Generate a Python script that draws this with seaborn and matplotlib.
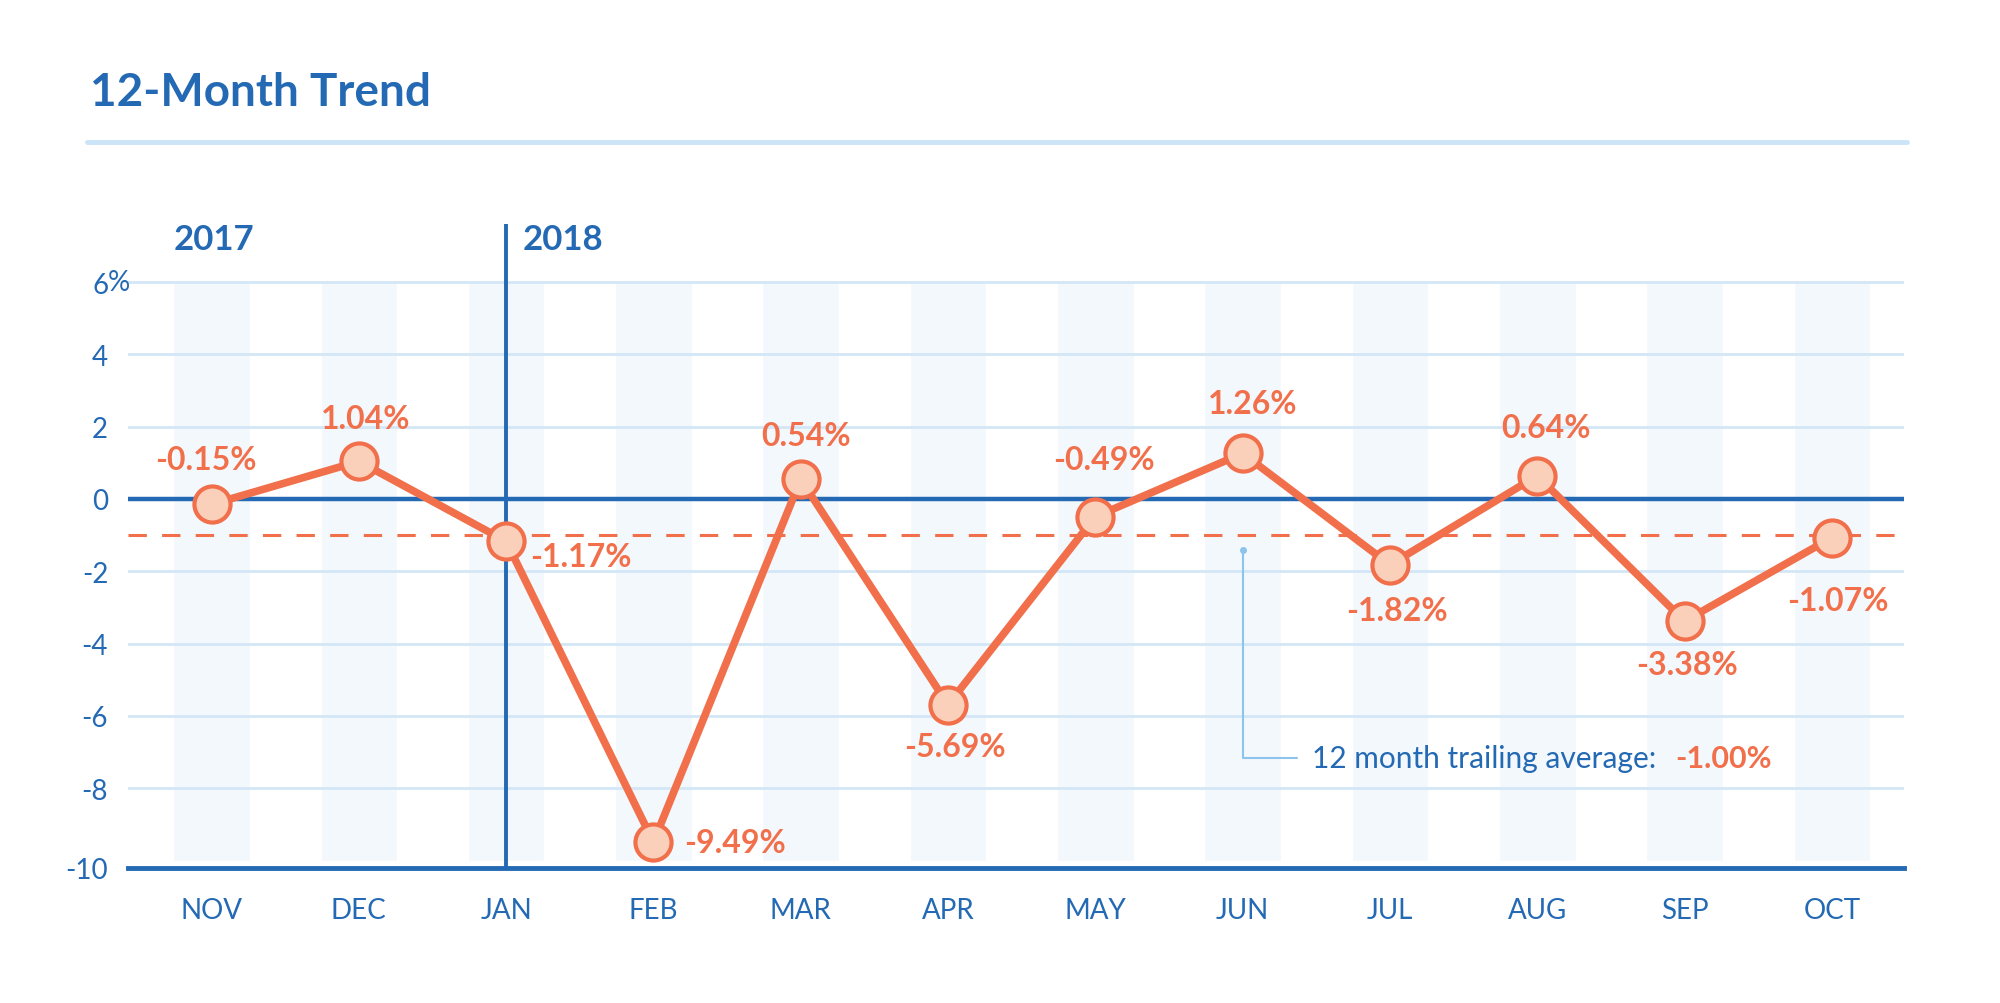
import matplotlib
matplotlib.use("Agg")
import matplotlib.pyplot as plt
import seaborn as sns
import pandas as pd

# chart data
months = ["NOV", "DEC", "JAN", "FEB", "MAR", "APR", "MAY", "JUN", "JUL", "AUG", "SEP", "OCT"]
changes = [-0.15, 1.04, -1.17, -9.49, 0.54, -5.69, -0.49, 1.26, -1.82, 0.64, -3.38, -1.07]
trailing_avg = -1.00
ytick_vals = [6, 4, 2, 0, -2, -4, -6, -8]
ytick_text = ["6", "4", "2", "0", "-2", "-4", "-6", "-8"]
years = ["2017", "2018"]

# label offsets from each point (points), right-hand labels for JAN and FEB
label_dx = [-4, 5, 17, 22, 4, 5, 6, 7, 5, 6, 2, 4]
label_dy = [32, 31, -11, 0, 32, -30, 41, 36, -33, 35, -31, -45]
label_ha = ["center", "center", "left", "left", "center", "center",
            "center", "center", "center", "center", "center", "center"]

BLUE = "#2469b3"
ORANGE = "#f1704b"
PEACH = "#fbd0ba"
GRID = "#d3e7f7"
BAND = "#f3f8fd"

sns.set_style("white")
plt.rcParams["font.family"] = ["Lato", "DejaVu Sans"]

df = pd.DataFrame({"x": range(len(months)), "month": months, "change": changes})

fig = plt.figure(figsize=(20, 10.04), dpi=100)
ax = fig.add_axes([0.0638, 0.1347, 0.8882, 0.641])

# light column bands behind each month
ax.bar(df["x"], height=16, bottom=-10, width=0.52, color=BAND, zorder=0)

for v in ytick_vals:
    ax.axhline(v, color=GRID, lw=2, zorder=1)
ax.axhline(0, color=BLUE, lw=3.2, zorder=2)
ax.axhline(trailing_avg, color=ORANGE, lw=2.2, ls=(0, (6, 5)), zorder=2)

# divider between years
ax.axvline(2, color=BLUE, lw=2.8, zorder=2)

sns.lineplot(data=df, x="x", y="change", ax=ax, color=ORANGE, lw=5.5, zorder=4,
             marker="o", markersize=26, markerfacecolor=PEACH,
             markeredgecolor=ORANGE, markeredgewidth=3)

for i, row in df.iterrows():
    ax.annotate(f"{row['change']:.2f}%", (row["x"], row["change"]),
                xytext=(label_dx[i], label_dy[i]), textcoords="offset points",
                ha=label_ha[i], va="center", fontsize=23, fontweight="bold",
                color=ORANGE, zorder=5)

# year labels
ax.text(-0.26, 7.2, years[0], fontsize=25, fontweight="bold", color=BLUE, va="center", ha="left")
ax.text(2.11, 7.2, years[1], fontsize=25, fontweight="bold", color=BLUE, va="center", ha="left")

# trailing average callout
ax.plot([7, 7, 7.37], [-1.41, -7.16, -7.16], color="#8cc4ec", lw=1.5, zorder=3)
ax.plot([7], [-1.41], "o", color="#8cc4ec", markersize=4, zorder=3)
t = ax.text(7.47, -7.16, "12 month trailing average:", fontsize=21.5, color=BLUE,
            va="center", ha="left")
fig.canvas.draw()
bb = t.get_window_extent().transformed(ax.transData.inverted())
ax.text(bb.x1 + 0.01, -7.16, f"{trailing_avg:.2f}%", fontsize=22, fontweight="bold",
        color=ORANGE, va="center", ha="left")

ax.set_xlim(-0.57, 11.49)
ax.set_ylim(-10.2, 7.6)
ax.set_xticks(df["x"], months)
ax.set_yticks(ytick_vals + [-10.2], ytick_text + ["-10"])
ax.tick_params(axis="x", length=0, pad=21, labelsize=20, labelcolor=BLUE)
ax.tick_params(axis="y", length=0, pad=14, labelsize=20, labelcolor=BLUE)
ax.annotate("%", xy=(0, 6), xycoords=("axes fraction", "data"), xytext=(-14, 0),
            textcoords="offset points", ha="left", va="center", fontsize=20, color=BLUE)
ax.set_xlabel("")
ax.set_ylabel("")
for s in ["top", "right", "left"]:
    ax.spines[s].set_visible(False)
ax.spines["bottom"].set_color(BLUE)
ax.spines["bottom"].set_linewidth(3.5)

# title and separator
fig.text(0.045, 0.907, "12-Month Trend", fontsize=33, fontweight="bold", color=BLUE,
         ha="left", va="center")
fig.add_artist(plt.Line2D([0.0435, 0.9535], [0.858, 0.858], color="#cce4f7", lw=3.5))

fig.savefig("out.png", dpi=100)
